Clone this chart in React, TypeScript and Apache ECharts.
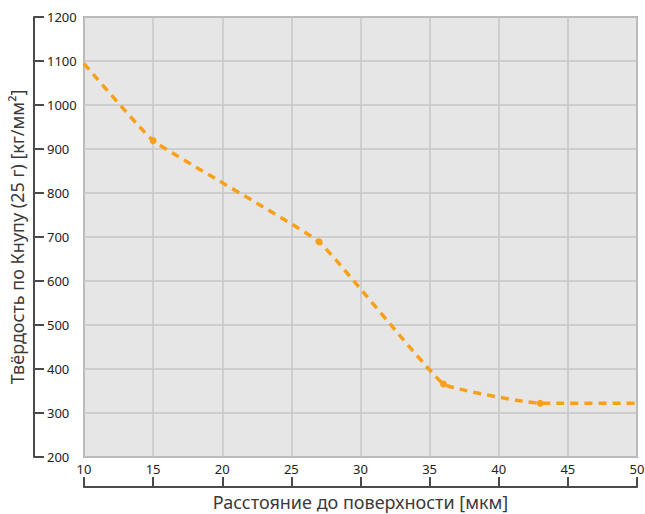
import React, { useEffect, useRef } from "react";
import * as echarts from "echarts";

const distances = [10, 15, 27, 36, 43, 50];
const hardness = [1094, 919, 689, 366, 322, 322];
const showMarker = [false, true, true, true, true, false];

const xTitle = "Расстояние до поверхности [мкм]";
const yTitle = "Твёрдость по Кнупу (25 г) [кг/мм²]";

const FONT = "'Noto Sans', 'Open Sans', sans-serif";
const ORANGE = "#f7a11a";
const AXIS = "#4a4a4a";

export default function App() {
  const ref = useRef<HTMLDivElement>(null);
  useEffect(() => {
    if (!ref.current) return;
    const chart = echarts.init(ref.current, undefined, { renderer: "svg" });
    const data = distances.map((x, i) => ({
      value: [x, hardness[i]],
      symbol: showMarker[i] ? "circle" : "none",
    }));
    chart.setOption({
      animation: false,
      backgroundColor: "#ffffff",
      grid: {
        left: 84,
        top: 17,
        width: 553,
        height: 440,
        show: true,
        containLabel: false,
        outerBoundsMode: "none",
        backgroundColor: "#e6e6e6",
        borderColor: "#9a9a9a",
        borderWidth: 2,
      },
      xAxis: {
        type: "value",
        min: 10,
        max: 50,
        interval: 5,
        position: "bottom",
        offset: 30,
        axisLine: { show: true, lineStyle: { color: AXIS, width: 2 } },
        axisTick: { show: true, inside: true, length: 10, lineStyle: { color: AXIS, width: 2 } },
        axisLabel: {
          inside: true,
          margin: 12,
          color: "#222",
          fontSize: 13,
          fontFamily: FONT,
          formatter: (v: number) => String(v),
        },
        splitLine: { show: true, lineStyle: { color: "#c6c6c6", width: 1.5 } },
        name: xTitle,
        nameLocation: "middle",
        nameGap: 14,
        nameTextStyle: {
          fontSize: 18,
          color: "#3a3a3a",
          fontFamily: FONT,
          verticalAlign: "middle",
        },
      },
      yAxis: {
        type: "value",
        min: 200,
        max: 1200,
        interval: 100,
        position: "left",
        offset: 50,
        axisLine: { show: true, lineStyle: { color: AXIS, width: 2 } },
        axisTick: { show: true, inside: true, length: 10, lineStyle: { color: AXIS, width: 2 } },
        axisLabel: {
          inside: true,
          margin: 13,
          color: "#222",
          fontSize: 13,
          fontFamily: FONT,
          formatter: (v: number) => String(v),
        },
        splitLine: { show: true, lineStyle: { color: "#c6c6c6", width: 1.5 } },
        name: yTitle,
        nameLocation: "middle",
        nameGap: 17,
        nameTextStyle: {
          fontSize: 18,
          color: "#3a3a3a",
          fontFamily: FONT,
          verticalAlign: "middle",
        },
      },
      series: [
        {
          type: "line",
          data,
          smooth: 0.1,
          symbolSize: 7,
          lineStyle: { color: ORANGE, width: 3.5, type: [8, 6] },
          itemStyle: { color: ORANGE },
        },
      ],
    });
    return () => chart.dispose();
  }, []);
  return (
    <div
      ref={ref}
      style={{ position: "fixed", left: 0, top: 0, width: 645, height: 514 }}
    />
  );
}
